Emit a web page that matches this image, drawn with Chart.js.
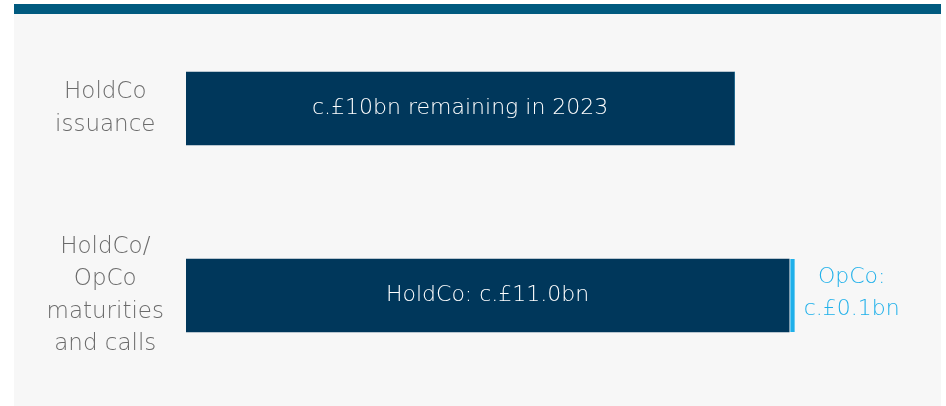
<!DOCTYPE html>
<html>
<head>
<meta charset="utf-8">
<script src="https://cdn.jsdelivr.net/npm/chart.js@4"></script>
<style>
  html, body { margin: 0; padding: 0; background: #ffffff; }
  #panel { position: absolute; left: 14px; top: 4px; width: 927px; height: 392px;
           background: #f7f7f7; border-top: 10px solid #005a7f; }
  #wrap { position: absolute; left: 0; top: 0; width: 946px; height: 406px; }
</style>
</head>
<body>
<div id="panel"></div>
<div id="wrap"><canvas id="myChart"></canvas></div>
<script>
var categories = [['HoldCo', 'issuance'], ['HoldCo/', 'OpCo', 'maturities', 'and calls']];
var holdco_values = [10, 11.0];
var opco_values = [0, 0.1];
var bar_labels = ['c.£10bn remaining in 2023', 'HoldCo: c.£11.0bn'];
var opco_label = ['OpCo:', 'c.£0.1bn'];

var navy = '#00375b';
var lightBlue = '#1fb0ea';
var fontFamily = '"DejaVu Sans", sans-serif';

// draw the text inside the bars and the OpCo note next to the thin bar
var barText = {
  id: 'barText',
  afterDatasetsDraw: function(chart) {
    var c = chart.ctx;
    var hold = chart.getDatasetMeta(0).data;
    var opco = chart.getDatasetMeta(1).data;
    c.save();
    c.font = '200 22px ' + fontFamily;
    c.textAlign = 'center';
    c.textBaseline = 'middle';
    c.fillStyle = '#ffffff';
    for (let i = 0; i < hold.length; i++) {
      c.fillText(bar_labels[i], (hold[i].base + hold[i].x) / 2, hold[i].y);
    }
    var last = opco[1];
    c.fillStyle = lightBlue;
    c.fillText(opco_label[0], last.x + 57, last.y - 18);
    c.fillText(opco_label[1], last.x + 57, last.y + 14);
    c.restore();
  }
};

var ctx = document.getElementById('myChart').getContext('2d');
var myChart = new Chart(ctx, {
  type: 'bar',
  data: {
    labels: categories,
    datasets: [{
      label: 'HoldCo',
      data: holdco_values,
      backgroundColor: navy,
      borderWidth: 0,
      barThickness: 73
    }, {
      label: 'OpCo',
      data: opco_values,
      backgroundColor: lightBlue,
      borderColor: '#ffffff',
      borderWidth: {left: 1.5, right: 0, top: 0, bottom: 0},
      borderSkipped: false,
      barThickness: 73
    }]
  },
  options: {
    indexAxis: 'y',
    responsive: true,
    maintainAspectRatio: false,
    animation: false,
    layout: { padding: { top: 15, bottom: 17, left: 0, right: 102 } },
    plugins: {
      legend: { display: false },
      tooltip: { enabled: false }
    },
    scales: {
      x: {
        display: false,
        stacked: true,
        min: 0,
        max: 12
      },
      y: {
        stacked: true,
        grid: { display: false, drawTicks: false },
        border: { display: false },
        afterFit: function(scale) {
          scale.width = 186;
          // tall multi-line labels should not shrink the plot area
          scale.paddingTop = 0;
          scale.paddingBottom = 0;
        },
        ticks: {
          crossAlign: 'center',
          padding: 22,
          color: '#6b6b6b',
          font: { family: fontFamily, size: 23, weight: 200, lineHeight: 1.4 }
        }
      }
    }
  },
  plugins: [barText]
});
</script>
</body>
</html>
